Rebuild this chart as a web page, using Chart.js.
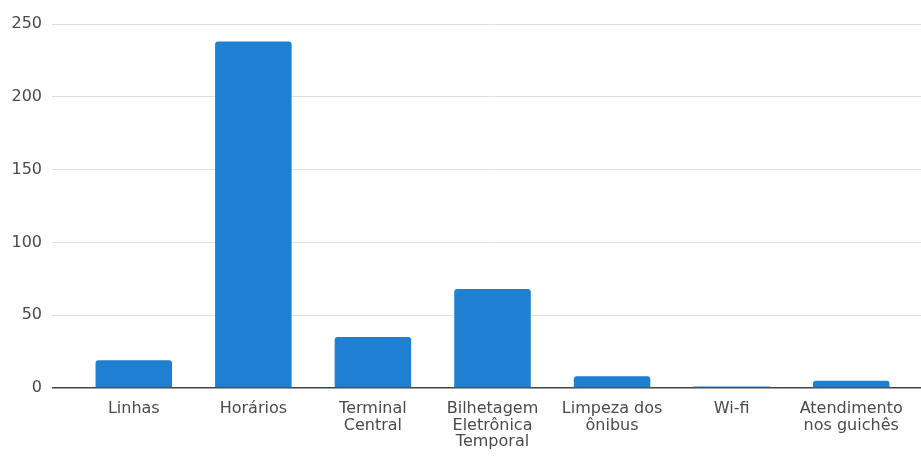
<!DOCTYPE html>
<html>
<head>
<meta charset="utf-8">
<script src="https://cdn.jsdelivr.net/npm/chart.js@4"></script>
<style>
  html, body { margin: 0; padding: 0; background: #fff; }
  #wrap { width: 921px; height: 456px; }
</style>
</head>
<body>
<div id="wrap"><canvas id="reclamacoes"></canvas></div>
<script>
const categories = [
  'Linhas',
  'Horários',
  ['Terminal', 'Central'],
  ['Bilhetagem', 'Eletrônica', 'Temporal'],
  ['Limpeza dos', 'ônibus'],
  'Wi-fi',
  ['Atendimento', 'nos guichês']
];
const counts = [19, 238, 35, 68, 8, 1, 5];
const yTicks = [0, 50, 100, 150, 200, 250];

Chart.defaults.font.family = '"DejaVu Sans", Arial, sans-serif';
Chart.defaults.font.size = 16;
Chart.defaults.color = '#4a4a4a';

new Chart(document.getElementById('reclamacoes'), {
  type: 'bar',
  data: {
    labels: categories,
    datasets: [{
      data: counts,
      backgroundColor: '#1f80d1',
      borderRadius: 3,
      borderSkipped: 'bottom',
      barPercentage: 0.64,
      categoryPercentage: 1
    }]
  },
  options: {
    responsive: true,
    maintainAspectRatio: false,
    animation: false,
    layout: { padding: { top: 24, left: 0, right: 0, bottom: 0 } },
    plugins: { legend: { display: false }, tooltip: { enabled: false } },
    scales: {
      x: {
        offset: true,
        grid: { display: false, drawTicks: false },
        border: { display: false },
        ticks: { padding: 13, maxRotation: 0, autoSkip: false, font: { size: 16, lineHeight: 1.03 } },
        afterFit: s => { s.height = 68; }
      },
      y: {
        min: 0,
        max: 250,
        afterBuildTicks: s => { s.ticks = yTicks.map(v => ({ value: v })); },
        grid: {
          color: c => c.tick && c.tick.value === 0 ? '#444' : '#e0e0e0',
          lineWidth: c => c.tick && c.tick.value === 0 ? 1.5 : 1,
          tickLength: 22
        },
        border: { display: false },
        ticks: { padding: 10, font: { size: 16 } },
        afterFit: s => { s.width = 74; }
      },
      y2: {
        position: 'right',
        min: 0,
        max: 250,
        afterBuildTicks: s => { s.ticks = yTicks.map(v => ({ value: v })); },
        grid: {
          drawOnChartArea: false,
          color: c => c.tick && c.tick.value === 0 ? '#444' : '#e0e0e0',
          lineWidth: c => c.tick && c.tick.value === 0 ? 1.5 : 1,
          tickLength: 10
        },
        border: { display: false },
        ticks: { display: false },
        afterFit: s => { s.width = 10; }
      }
    }
  }
});
</script>
</body>
</html>
